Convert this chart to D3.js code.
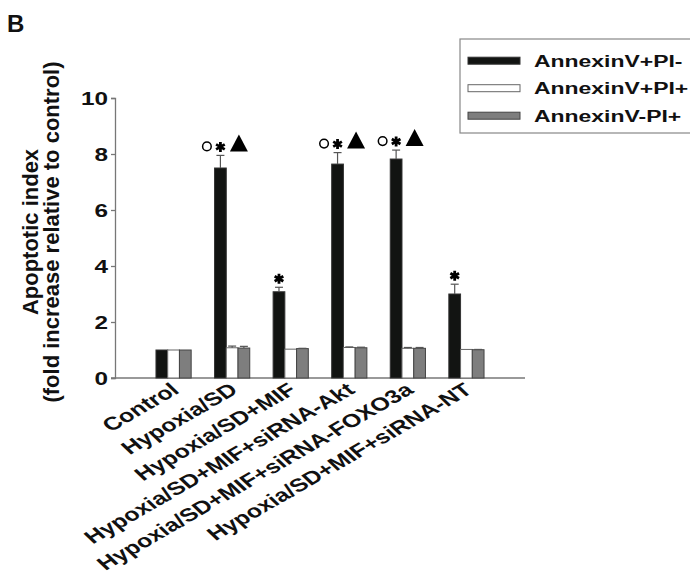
<!DOCTYPE html>
<html>
<head>
<meta charset="utf-8">
<script src="https://cdn.jsdelivr.net/npm/d3@7"></script>
<style>
  body { margin: 0; background: #fff; }
  svg text { font-family: "Liberation Sans", Arial, sans-serif; font-weight: bold; fill: #111; }
</style>
</head>
<body>
<div id="chart"></div>
<script>
// apoptotic index bar chart, panel B

var categories = ["Control", "Hypoxia/SD", "Hypoxia/SD+MIF", "Hypoxia/SD+MIF+siRNA-Akt",
    "Hypoxia/SD+MIF+siRNA-FOXO3a", "Hypoxia/SD+MIF+siRNA-NT"];
var seriesNames = ["AnnexinV+PI-", "AnnexinV+PI+", "AnnexinV-PI+"];

var annexinPosPiNeg = [1, 7.5, 3.08, 7.64, 7.82, 3.0];
var annexinPosPiNegErr = [0, 0.45, 0.16, 0.41, 0.32, 0.35];
var annexinPosPiPos = [1, 1.08, 1.03, 1.09, 1.06, 1.02];
var annexinPosPiPosErr = [0, 0.06, 0, 0.02, 0.03, 0];
var annexinNegPiPos = [1, 1.07, 1.05, 1.08, 1.06, 1.01];
var annexinNegPiPosErr = [0, 0.06, 0.01, 0.02, 0.03, 0.01];

// significance marks above the black bars
var markStar = [false, true, true, true, true, true];
var markCircle = [false, true, false, true, true, false];
var markTriangle = [false, true, false, true, true, false];

var yTicks = [0, 2, 4, 6, 8, 10];

var seriesColors = ["#121412", "#ffffff", "#7e7e7e"];
var seriesStrokes = ["#333", "#666", "#444"];

/*** SVG AREA */
var width = 690, height = 575;
var svg = d3.select("#chart").append("svg")
    .attr("width", width)
    .attr("height", height);

var stretch = 1.35;   // text in the figure is drawn wide

/*** SCALES */
var x = d3.scaleLinear().domain([0, categories.length + 1]).range([115, 525]);
var y = d3.scaleLinear().domain([0, 10]).range([378, 98]);
var xSeries = d3.scaleBand().domain(seriesNames).range([-17.6, 17.6]);

var table = categories.map(function(c, i) {
    return {
        name: c,
        pos: i + 1,
        values: [
            {series: seriesNames[0], v: annexinPosPiNeg[i], e: annexinPosPiNegErr[i]},
            {series: seriesNames[1], v: annexinPosPiPos[i], e: annexinPosPiPosErr[i]},
            {series: seriesNames[2], v: annexinNegPiPos[i], e: annexinNegPiPosErr[i]}
        ],
        star: markStar[i], circle: markCircle[i], triangle: markTriangle[i]
    };
});

/*** AXES */
var axisColor = "#777";

var yAxis = svg.append("g")
    .attr("transform", "translate(" + x(0) + ",0)")
    .call(d3.axisLeft(y).tickValues(yTicks).tickSize(4).tickPadding(3));
yAxis.select(".domain").attr("stroke", axisColor).attr("stroke-width", 1.3);
yAxis.selectAll(".tick line").attr("stroke", axisColor).attr("stroke-width", 1.3);
yAxis.selectAll(".tick text")
    .attr("font-size", 18)
    .attr("font-family", null)
    .each(function() {
        var t = d3.select(this);
        t.attr("transform", "translate(" + t.attr("x") + ",0) scale(" + stretch + ",1)")
            .attr("x", 0)
            .attr("dy", "0.35em");
    });

svg.append("line")
    .attr("x1", x(0) - 4).attr("x2", x(categories.length + 1))
    .attr("y1", y(0)).attr("y2", y(0))
    .attr("stroke", axisColor).attr("stroke-width", 1.3);

/*** BARS */
var groups = svg.selectAll(".group")
    .data(table)
    .enter().append("g")
    .attr("class", "group")
    .attr("transform", function(d) { return "translate(" + x(d.pos) + ",0)"; });

groups.selectAll(".bar")
    .data(function(d) { return d.values; })
    .enter().append("rect")
    .attr("class", "bar")
    .attr("x", function(d) { return xSeries(d.series); })
    .attr("width", xSeries.bandwidth())
    .attr("y", function(d) { return y(d.v); })
    .attr("height", function(d) { return y(0) - y(d.v); })
    .attr("fill", function(d, i) { return seriesColors[i]; })
    .attr("stroke", function(d, i) { return seriesStrokes[i]; })
    .attr("stroke-width", 1);

// error bars, upward only
var errs = groups.selectAll(".err")
    .data(function(d) { return d.values.filter(function(v) { return v.e > 0; }); })
    .enter().append("g")
    .attr("class", "err")
    .attr("stroke", "#555")
    .attr("stroke-width", 1.2);
errs.append("line")
    .attr("x1", function(d) { return xSeries(d.series) + xSeries.bandwidth() / 2; })
    .attr("x2", function(d) { return xSeries(d.series) + xSeries.bandwidth() / 2; })
    .attr("y1", function(d) { return y(d.v); })
    .attr("y2", function(d) { return y(d.v + d.e); });
errs.append("line")
    .attr("x1", function(d) { return xSeries(d.series) + xSeries.bandwidth() / 2 - 4; })
    .attr("x2", function(d) { return xSeries(d.series) + xSeries.bandwidth() / 2 + 4; })
    .attr("y1", function(d) { return y(d.v + d.e); })
    .attr("y2", function(d) { return y(d.v + d.e); });

/*** SIGNIFICANCE MARKS */
var blackMid = xSeries(seriesNames[0]) + xSeries.bandwidth() / 2;
function capY(d) { return y(d.values[0].v + d.values[0].e); }

groups.filter(function(d) { return d.star; })
    .append("path")
    .attr("d", d3.symbol().type(d3.symbolAsterisk).size(70))
    .attr("transform", function(d) { return "translate(" + blackMid + "," + (capY(d) - 8.5) + ")"; })
    .attr("stroke", "#000")
    .attr("stroke-width", 2.8)
    .attr("fill", "none");

groups.filter(function(d) { return d.circle; })
    .append("circle")
    .attr("cx", blackMid - 13.5)
    .attr("cy", function(d) { return capY(d) - 9; })
    .attr("r", 4.3)
    .attr("fill", "none")
    .attr("stroke", "#000")
    .attr("stroke-width", 1.5);

groups.filter(function(d) { return d.triangle; })
    .append("path")
    .attr("d", function(d) {
        var p = d3.path(), b = capY(d) - 4, cx = blackMid + 18.5;
        p.moveTo(cx - 9, b);
        p.lineTo(cx + 9, b);
        p.lineTo(cx, b - 17);
        p.closePath();
        return p.toString();
    })
    .attr("fill", "#000");

/*** CATEGORY LABELS */
svg.selectAll(".xlabel")
    .data(table)
    .enter().append("text")
    .attr("class", "xlabel")
    .attr("font-size", 18.5)
    .attr("text-anchor", "end")
    .attr("transform", function(d) {
        return "translate(" + (x(d.pos) + 7) + ",392) scale(" + stretch + ",1) rotate(-38)";
    })
    .text(function(d) { return d.name; });

/*** Y TITLE */
var yTitle = svg.append("text")
    .attr("font-size", 22)
    .attr("text-anchor", "middle")
    .attr("transform", "translate(38,232) rotate(-90)");
yTitle.append("tspan").attr("x", 0).attr("dy", 0).text("Apoptotic index");
yTitle.append("tspan").attr("x", 0).attr("dy", 21).text("(fold increase relative to control)");

/*** PANEL LETTER */
svg.append("text")
    .attr("x", 7).attr("y", 32)
    .attr("font-size", 24)
    .text("B");

/*** LEGEND */
var legend = svg.append("g").attr("transform", "translate(460,39)");
legend.append("rect")
    .attr("x", 0).attr("y", 0)
    .attr("width", 240).attr("height", 94)
    .attr("fill", "#fff")
    .attr("stroke", "#888")
    .attr("stroke-width", 1.2);

var rowY = d3.scalePoint().domain(seriesNames).range([21.7, 76.7]);

var rows = legend.selectAll(".lrow")
    .data(seriesNames)
    .enter().append("g")
    .attr("class", "lrow")
    .attr("transform", function(d) { return "translate(0," + rowY(d) + ")"; });
rows.append("rect")
    .attr("x", 8).attr("y", -3.5)
    .attr("width", 52).attr("height", 7)
    .attr("fill", function(d, i) { return seriesColors[i]; })
    .attr("stroke", function(d, i) { return seriesStrokes[i]; })
    .attr("stroke-width", 1);
rows.append("text")
    .attr("font-size", 17)
    .attr("dy", "0.35em")
    .attr("transform", "translate(74,0) scale(" + stretch + ",1)")
    .text(function(d) { return d; });
</script>
</body>
</html>
